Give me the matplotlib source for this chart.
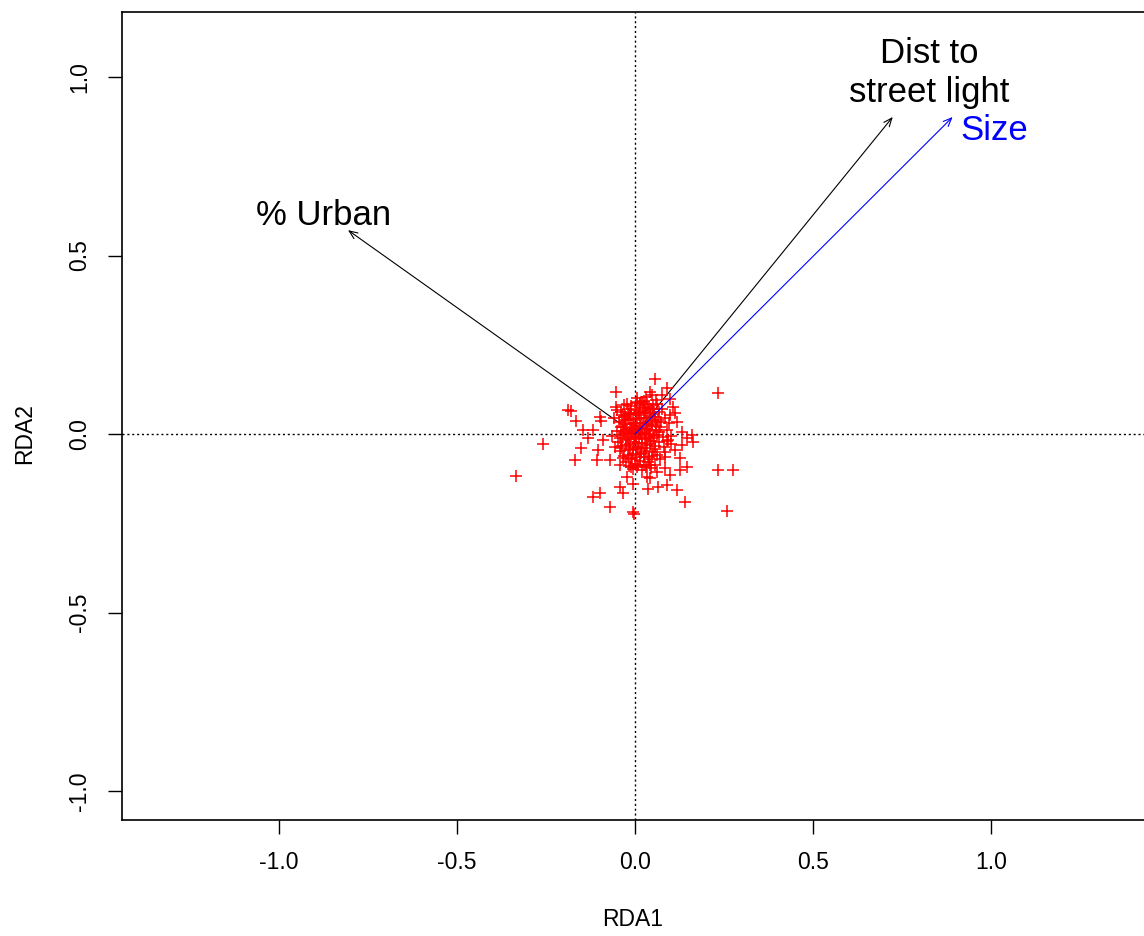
import matplotlib
matplotlib.use("Agg")
import matplotlib.pyplot as plt

plt.rcParams['font.family'] = ['Liberation Sans', 'DejaVu Sans']

# Site scores (RDA1, RDA2)
outlier_x = [0.055, -0.054, 0.232, -0.180, -0.166, -0.051, -0.099, -0.096, -0.147, -0.118,
             -0.132, -0.259, -0.152, -0.090, -0.104, -0.169, -0.107, -0.071, -0.043, 0.159,
             0.162, 0.131, 0.117, 0.131, 0.111, 0.092, 0.232, 0.276, 0.257, 0.145,
             0.125, 0.097, 0.083, 0.083, 0.125, 0.055, 0.061, 0.033, 0.041, -0.023,
             -0.006, 0.005, -0.043, -0.034, -0.099, -0.118, -0.071, 0.036, 0.064, 0.089,
             0.119, 0.139, -0.006, -0.004, 0.041, 0.047, 0.089, 0.106, 0.111, 0.097,
             -0.015, 0.013, 0.027, 0.005, -0.334, -0.189, 0.076, 0.098, 0.147, 0.101]
outlier_y = [0.155, 0.118, 0.116, 0.065, 0.037, 0.068, 0.048, 0.037, 0.012, 0.012,
             -0.010, -0.027, -0.038, -0.016, -0.044, -0.072, -0.072, -0.072, -0.086, -0.002,
             -0.022, 0.006, 0.034, -0.030, -0.044, -0.016, -0.100, -0.100, -0.215, -0.092,
             -0.100, -0.114, -0.094, -0.064, -0.066, -0.086, -0.106, -0.120, -0.122, -0.120,
             -0.139, -0.092, -0.148, -0.164, -0.164, -0.175, -0.204, -0.153, -0.148, -0.142,
             -0.156, -0.189, -0.218, -0.224, 0.118, 0.110, 0.130, 0.076, 0.060, 0.054,
             0.060, 0.088, 0.068, 0.090, -0.117, 0.068, 0.109, 0.098, -0.010, -0.028]

core_x = [-0.040, -0.032, -0.021, -0.012, 0.000, 0.011, 0.022, 0.034, 0.045, 0.056, 0.068,
          -0.045, -0.034, -0.023, -0.011, 0.002, 0.014, 0.025, 0.037, 0.049, 0.060, 0.072, 0.083,
          -0.050, -0.038, -0.026, -0.015, -0.003, 0.008, 0.019, 0.031, 0.042, 0.054, 0.066, 0.078, 0.089,
          -0.047, -0.036, -0.024, -0.013, -0.001, 0.010, 0.021, 0.033, 0.044, 0.056, 0.067, 0.080,
          -0.042, -0.030, -0.018, -0.007, 0.005, 0.016, 0.028, 0.039, 0.051, 0.063,
          -0.025, -0.012, 0.000, 0.013, 0.025, 0.037,
          -0.008, 0.004, 0.015, -0.020, 0.027, 0.006, -0.005, 0.018, 0.030, -0.028,
          0.040, 0.048, -0.016, 0.058, 0.012, -0.035, 0.024, -0.010, 0.035, 0.020,
          0.050, -0.030, 0.060, 0.075, 0.090, 0.085, -0.055, -0.060, 0.070, 0.045,
          0.005, 0.030, -0.052, 0.095, 0.100, -0.065,
          -0.036, -0.029, -0.017, -0.006, 0.007, 0.018, 0.029, 0.041, 0.052, 0.064,
          -0.040, -0.027, -0.014, -0.002, 0.010, 0.023, 0.035, 0.047, 0.059, 0.071,
          -0.043, -0.031, -0.019, -0.008, 0.004, 0.016, 0.027, 0.039, 0.050, 0.062,
          -0.038, -0.026, -0.015, -0.003, 0.009, 0.020, 0.032, 0.043, 0.055,
          -0.033, -0.021, -0.009, 0.003, 0.014, 0.026, 0.038, 0.049,
          -0.018, -0.005, 0.008, 0.019, 0.031, 0.043,
          -0.022, -0.010, 0.002, 0.014, 0.026, 0.038, 0.050, 0.062]
core_y = [0.062, 0.048, 0.071, 0.055, 0.066, 0.052, 0.074, 0.058, 0.069, 0.047, 0.061,
          0.035, 0.021, 0.039, 0.027, 0.041, 0.030, 0.044, 0.025, 0.037, 0.022, 0.033, 0.045,
          0.008, -0.004, 0.012, 0.001, 0.015, 0.004, 0.017, -0.002, 0.010, -0.005, 0.007, -0.008, 0.012,
          -0.021, -0.033, -0.018, -0.029, -0.014, -0.026, -0.011, -0.031, -0.019, -0.034, -0.022, -0.036,
          -0.048, -0.061, -0.045, -0.057, -0.042, -0.054, -0.047, -0.063, -0.050, -0.058,
          -0.078, -0.070, -0.083, -0.075, -0.086, -0.079,
          0.008, -0.005, 0.010, -0.008, 0.005, 0.023, -0.035, -0.038, 0.032, 0.050,
          -0.008, 0.022, 0.042, 0.035, 0.063, 0.008, -0.064, -0.092, 0.085, 0.090,
          0.082, 0.080, 0.095, 0.070, -0.020, -0.050, -0.035, 0.045, -0.070, -0.095,
          0.100, 0.105, 0.075, 0.030, -0.005, -0.005,
          0.054, 0.040, 0.057, 0.043, 0.060, 0.045, 0.062, 0.050, 0.055, 0.040,
          0.019, 0.027, 0.016, 0.030, 0.018, 0.031, 0.013, 0.028, 0.012, 0.020,
          -0.010, 0.002, -0.013, 0.005, -0.009, 0.003, -0.015, 0.000, -0.012, -0.002,
          -0.040, -0.030, -0.042, -0.022, -0.035, -0.025, -0.040, -0.028, -0.043,
          -0.066, -0.058, -0.068, -0.060, -0.065, -0.056, -0.070, -0.062,
          -0.090, -0.097, -0.088, -0.100, -0.093, -0.086,
          0.084, 0.078, 0.088, 0.080, 0.092, 0.076, 0.070, 0.083]

# Biplot arrows (environmental variables)
var_names = ["% Urban", "Dist to\nstreet light", "Size"]
var_x = [-0.805, 0.723, 0.891]
var_y = [0.571, 0.888, 0.888]
label_x = [-0.875, 0.826, 1.007]
label_y = [0.613, 1.011, 0.849]
var_colors = ["black", "black", "blue"]

x_ticks = [-1.0, -0.5, 0.0, 0.5, 1.0]
y_ticks = [-1.0, -0.5, 0.0, 0.5, 1.0]

W, H = 1144, 936
fig = plt.figure(figsize=(W / 100, H / 100), dpi=100)
ax = fig.add_axes([122 / W, (H - 820) / H, (1148 - 122) / W, (820 - 12) / H])
ax.set_xlim(-1.439, 1.439)
ax.set_ylim(-1.081, 1.182)

ax.axhline(0, color="black", linestyle=(0, (1.5, 2)), linewidth=1.0, zorder=1)
ax.axvline(0, color="black", linestyle=(0, (1.5, 2)), linewidth=1.0, zorder=1)

ax.plot(core_x + outlier_x, core_y + outlier_y, linestyle="none", marker="+",
        color="red", markersize=8, markeredgewidth=1.1, zorder=3)

for name, vx, vy, lx, ly, c in zip(var_names, var_x, var_y, label_x, label_y, var_colors):
    z = 4 if c == "blue" else 2
    ax.annotate("", xy=(vx, vy), xytext=(0, 0),
                arrowprops=dict(arrowstyle="->,head_length=0.6,head_width=0.25",
                                color=c, lw=0.8, shrinkA=0, shrinkB=0,
                                mutation_scale=10),
                zorder=z)
    ax.text(lx, ly, name, color=c, fontsize=25, ha="center", va="center",
            linespacing=1.25, zorder=5)

ax.set_xticks(x_ticks)
ax.set_yticks(y_ticks)
ax.set_xticklabels([f"{t:.1f}" for t in x_ticks])
ax.set_yticklabels([f"{t:.1f}" for t in y_ticks], rotation=90, va="center")
ax.tick_params(axis="both", direction="out", length=10, width=1.0, labelsize=16.5, pad=12)
for s in ax.spines.values():
    s.set_linewidth(1.2)

fig.text(633 / W, 1 - 920 / H, "RDA1", ha="center", va="center", fontsize=16.5)
fig.text(25 / W, 1 - 434 / H, "RDA2", ha="center", va="center", fontsize=16.5, rotation=90)

fig.savefig("out.png", dpi=100)
